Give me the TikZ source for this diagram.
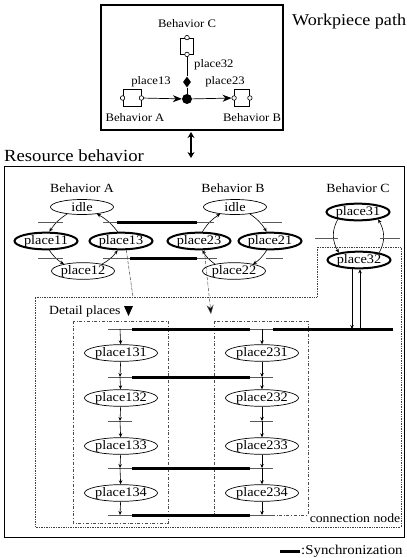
\documentclass[tikz,border=0pt]{standalone}
\usepackage{fontspec}
\setmainfont{Liberation Serif}[FakeStretch=1.1]
\usetikzlibrary{arrows.meta,shapes.geometric}

\begin{document}
\begin{tikzpicture}[x=1pt,y=-1pt,
  place/.style={ellipse,draw,line width=0.7pt,minimum width=63,minimum height=15,inner sep=0pt,font=\fontsize{13}{13}\selectfont},
  busy/.style={place,line width=2pt},
  lbl/.style={inner sep=0pt,font=\fontsize{12.5}{12.5}\selectfont},
  big/.style={inner sep=0pt,font=\fontsize{16.5}{16.5}\selectfont},
  small/.style={inner sep=0pt,font=\fontsize{11.5}{11.5}\selectfont},
  flow/.style={-{Stealth[length=4pt,width=3.5pt]},line width=0.6pt},
  tick/.style={line width=0.8pt,draw=black!65},
  sync/.style={line width=3pt},
  comp/.style={draw,line width=0.8pt,minimum width=18,minimum height=17,inner sep=0pt},
  port/.style={circle,draw,line width=0.6pt,fill=white,minimum size=4.5,inner sep=0pt},
  bigtip/.style={-{Stealth[length=9pt,width=7pt]},line width=0.7pt},
]
\useasboundingbox (0,0) rectangle (407,558);

% ---------- workpiece path ----------
\draw[line width=1.1pt] (101,5) rectangle (283,130);
\node[big,anchor=west] (wtitle) at (292,22) {Workpiece path};
\node[small] (wlc) at (187,24) {Behavior C};
\node[comp,minimum width=13,minimum height=16] (wc) at (187,46) {};
\node[port] (wcT) at (wc.north) {};
\node[port] (wcB) at (wc.south) {};
\node[diamond,fill,inner sep=0pt,minimum width=8,minimum height=11] (wd) at (187,82) {};
\node[circle,fill,inner sep=0pt,minimum size=10] (wj) at (187,99) {};
\draw[line width=0.6pt] (wcB) -- (wd) -- (wj);
\node[comp] (wa) at (132,98) {};
\node[port] (waW) at (wa.west) {};
\node[port] (waE) at (wa.east) {};
\node[comp,minimum width=15] (wb) at (242,98) {};
\node[port] (wbW) at (wb.west) {};
\node[port] (wbE) at (wb.east) {};
\draw[bigtip] (waE) -- (wj);
\draw[bigtip] (wj) -- (wbW);
\node[small] (wl13) at (151,82) {place13};
\node[small] (wl23) at (225,82) {place23};
\node[small,anchor=west] (wl32) at (194,65) {place32};
\node[small] (wla) at (135,118) {Behavior A};
\node[small] (wlb) at (252,118) {Behavior B};

% link between the two views
\coordinate (lt) at (191,132);
\coordinate (lb) at (191,158);
\draw[{Stealth[length=6pt,width=7pt]}-{Stealth[length=6pt,width=7pt]},line width=2pt] (lt) -- (lb);

% ---------- resource behavior ----------
\node[big,anchor=west,font=\fontsize{17}{17}\selectfont] (rtitle) at (4,156) {Resource behavior};
\draw[line width=1pt] (4,166) rectangle (404,537);

% connection node region
\draw[densely dotted,line width=0.7pt,black!75] (35,297) -- (317,297) -- (317,247) -- (401,247) -- (401,527) -- (35,527) -- cycle;
\node[lbl] (cn) at (355,518) {connection node};

% behavior A
\node[lbl] (la) at (82,188) {Behavior A};
\node[place] (ia) at (82,207) {idle};
\node[busy] (p11) at (46,241) {place11};
\node[busy] (p13) at (121,241) {place13};
\node[place] (p12) at (83,271) {place12};
\draw[flow] (ia.205) to[bend right=12] (p11.70);
\draw[flow] (p11.290) to[bend right=12] (p12.160);
\draw[flow] (p12.20) to[bend right=12] (p13.250);
\draw[flow] (p13.110) to[bend right=12] (ia.335);

% behavior B
\node[lbl] (lb2) at (233,188) {Behavior B};
\node[place] (ib) at (235,207) {idle};
\node[busy] (p23) at (199,241) {place23};
\node[busy] (p21) at (270,241) {place21};
\node[place] (p22) at (234,271) {place22};
\draw[flow] (ib.335) to[bend left=12] (p21.110);
\draw[flow] (p21.250) to[bend left=12] (p22.20);
\draw[flow] (p22.160) to[bend left=12] (p23.290);
\draw[flow] (p23.70) to[bend left=12] (ib.205);

% behavior C
\node[lbl] (lc) at (358,188) {Behavior C};
\node[busy] (p31) at (358,212) {place31};
\node[busy] (p32) at (359,260) {place32};
\draw[flow] (p31.200) to[out=240,in=120] (p32.160);
\draw[flow] (p32.20) to[out=60,in=-60] (p31.340);

% transitions of the behaviors
\draw[tick] (38,222) -- (63,222);
\draw[tick] (38,258) -- (63,258);
\draw[tick] (103,222) -- (117,222);
\draw[tick] (103,258) -- (130,258);
\draw[tick] (197,222) -- (214,222);
\draw[tick] (197,258) -- (217,258);
\draw[tick] (262,222) -- (282,222);
\draw[tick] (266,258) -- (283,258);
\draw[tick] (315,238) -- (338,238);
\draw[tick] (380,238) -- (400,238);
% synchronisations between A and B
\draw[sync] (117,222) -- (197,222);
\draw[sync] (130,258) -- (197,258);

% expansion of place13 and place23
\draw[densely dash dot,line width=0.5pt,black!70] (p13.300) -- (133,297);
\draw[densely dash dot,line width=0.5pt,black!70,-{Stealth[length=9pt,width=7pt,fill=black]}] (p23.300) -- (211,314);

% detail places
\node[lbl,anchor=west] (dp) at (49,311) {Detail places};
\fill (124,306) -- (133,306) -- (128.5,316) -- cycle;
\draw[dash dot,line width=0.5pt,black!70] (73,321) rectangle (168,523);
\draw[dash dot,line width=0.5pt,black!70] (214,321) rectangle (308,515);

\node[place,minimum height=14] (p131) at (121,353) {place131};
\node[place,minimum height=14] (p132) at (121,398) {place132};
\node[place,minimum height=14] (p133) at (121,446) {place133};
\node[place,minimum height=14] (p134) at (121,493) {place134};
\node[place,minimum height=14] (p231) at (262,353) {place231};
\node[place,minimum height=14] (p232) at (262,398) {place232};
\node[place,minimum height=14] (p233) at (262,446) {place233};
\node[place,minimum height=14] (p234) at (262,493) {place234};

% transitions in the detail columns
\foreach \y/\n in {329/a,377/b,421/c,468/d,515/e}{
  \coordinate (L\n) at (120,\y);
  \coordinate (R\n) at (262,\y);
  \draw[tick] (108,\y) -- (132,\y);
  \draw[tick] (250,\y) -- (273,\y);
}
\draw[sync] (132,329) -- (250,329);
\draw[sync] (273,329) -- (393,329);
\draw[sync] (132,377) -- (250,377);
\draw[sync] (132,468) -- (250,468);
\draw[sync] (132,515) -- (250,515);

\draw[flow] (La) -- (p131);
\draw[flow] (p131) -- (Lb);
\draw[flow] (Lb) -- (p132);
\draw[flow] (p132) -- (Lc);
\draw[flow] (Lc) -- (p133);
\draw[flow] (p133) -- (Ld);
\draw[flow] (Ld) -- (p134);
\draw[flow] (p134) -- (Le);
\draw[flow] (Ra) -- (p231);
\draw[flow] (p231) -- (Rb);
\draw[flow] (Rb) -- (p232);
\draw[flow] (p232) -- (Rc);
\draw[flow] (Rc) -- (p233);
\draw[flow] (p233) -- (Rd);
\draw[flow] (Rd) -- (p234);
\draw[flow] (p234) -- (Re);

% place32 to the shared synchronisation
\coordinate (sd) at (352,329);
\coordinate (su) at (360,329);
\draw[flow] (p32.south -| sd) -- (sd);
\draw[flow] (su) -- (su |- p32.south);

% legend
\coordinate (k1) at (280,551);
\coordinate (k2) at (300,551);
\draw[sync] (k1) -- (k2);
\node[lbl,anchor=west,font=\fontsize{13.5}{13.5}\selectfont] (kt) at (301,551) {:Synchronization};
\end{tikzpicture}
\end{document}
